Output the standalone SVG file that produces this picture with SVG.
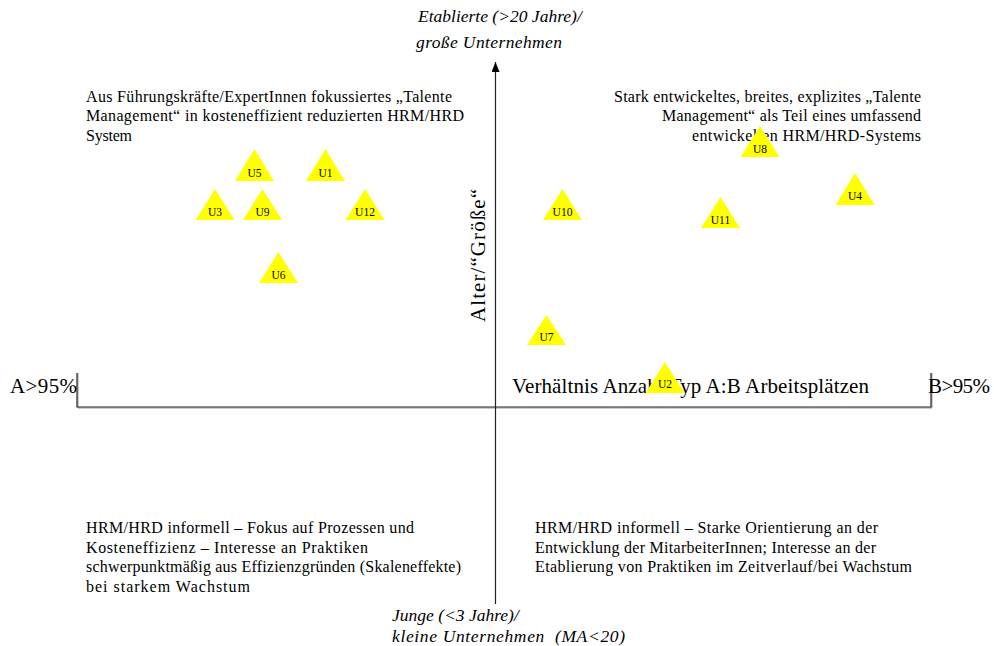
<svg xmlns="http://www.w3.org/2000/svg" width="994" height="646" viewBox="0 0 994 646">
<style>
.t{font-family:"Liberation Serif","Times New Roman",serif;fill:#000}
.q{font-size:16px}
.ax{font-size:21px}
.it{font-size:17.5px;font-style:italic}
.tri{fill:#ffff00}
.lb{font-family:"Liberation Serif",serif;font-size:11.5px;fill:#000;text-anchor:middle}
</style>
<defs>
<marker id="ah" viewBox="0 0 10 8" refX="10" refY="4" markerWidth="10" markerHeight="8" markerUnits="userSpaceOnUse" orient="auto">
<path d="M0,0 L10,4 L0,8 Z" fill="#000"/>
</marker>
</defs>
<rect width="994" height="646" fill="#fff"/>
<g id="connectors">
<path d="M78,373 V408 H932 V373" fill="none" stroke="#999" stroke-width="1"/>
<path d="M77,373 V407 H931 V373" fill="none" stroke="#222" stroke-width="1.2"/>
<line x1="495.5" y1="604" x2="495.5" y2="62" stroke="#222" stroke-width="1.2" marker-end="url(#ah)"/>
</g>
<g id="labels">
<text class="t it" x="418" y="22">Etablierte (&gt;20 Jahre)/</text>
<text class="t it" x="416" y="48" textLength="146">große Unternehmen</text>
<text class="t it" x="392" y="621">Junge (&lt;3 Jahre)/</text>
<text class="t it" x="392" y="642" textLength="233" xml:space="preserve">kleine Unternehmen  (MA&lt;20)</text>
<text class="t ax" x="10" y="393" textLength="67">A&gt;95%</text>
<text class="t ax" x="512" y="393" textLength="357">Verhältnis Anzahl Typ A:B Arbeitsplätzen</text>
<text class="t ax" x="928" y="393" textLength="62">B&gt;95%</text>
<text class="t ax" transform="translate(485,255.5) rotate(-90)" text-anchor="middle" textLength="133">Alter/“Größe“</text>
<text class="t q" x="86" y="102" textLength="366">Aus Führungskräfte/ExpertInnen fokussiertes „Talente</text>
<text class="t q" x="86" y="121" textLength="378">Management“ in kosteneffizient reduzierten HRM/HRD</text>
<text class="t q" x="86" y="141" textLength="46">System</text>
<text class="t q" x="614" y="102" textLength="307">Stark entwickeltes, breites, explizites „Talente</text>
<text class="t q" x="662" y="121" textLength="259">Management“ als Teil eines umfassend</text>
<text class="t q" x="692" y="141" textLength="229">entwickelten HRM/HRD-Systems</text>
<text class="t q" x="86" y="533" textLength="328">HRM/HRD informell – Fokus auf Prozessen und</text>
<text class="t q" x="86" y="553" textLength="282">Kosteneffizienz – Interesse an Praktiken</text>
<text class="t q" x="86" y="572" textLength="375">schwerpunktmäßig aus Effizienzgründen (Skaleneffekte)</text>
<text class="t q" x="86" y="592" textLength="164">bei starkem Wachstum</text>
<text class="t q" x="535" y="533" textLength="343">HRM/HRD informell – Starke Orientierung an der</text>
<text class="t q" x="535" y="553" textLength="341">Entwicklung der MitarbeiterInnen; Interesse an der</text>
<text class="t q" x="535" y="572" textLength="377">Etablierung von Praktiken im Zeitverlauf/bei Wachstum</text>
</g>
<g id="U5"><path class="tri" d="M254.5,149 L274,181 L235,181 Z"/><text class="lb" x="254.5" y="177">U5</text></g>
<g id="U1"><path class="tri" d="M325.5,149 L345,181 L306,181 Z"/><text class="lb" x="325.5" y="177">U1</text></g>
<g id="U3"><path class="tri" d="M215,189 L234.5,220 L195.5,220 Z"/><text class="lb" x="215" y="216">U3</text></g>
<g id="U9"><path class="tri" d="M262.5,189 L282,220 L243,220 Z"/><text class="lb" x="262.5" y="216">U9</text></g>
<g id="U12"><path class="tri" d="M365,189 L384.5,220 L345.5,220 Z"/><text class="lb" x="365" y="216">U12</text></g>
<g id="U6"><path class="tri" d="M278.5,252 L298,283 L259,283 Z"/><text class="lb" x="278.5" y="279">U6</text></g>
<g id="U10"><path class="tri" d="M562.5,189 L582,220 L543,220 Z"/><text class="lb" x="562.5" y="216">U10</text></g>
<g id="U11"><path class="tri" d="M720.5,197 L740,228 L701,228 Z"/><text class="lb" x="720.5" y="224">U11</text></g>
<g id="U8"><path class="tri" d="M760,126 L779.5,157 L740.5,157 Z"/><text class="lb" x="760" y="153">U8</text></g>
<g id="U4"><path class="tri" d="M855,173 L874.5,205 L835.5,205 Z"/><text class="lb" x="855" y="200">U4</text></g>
<g id="U7"><path class="tri" d="M546.5,315 L566,345 L527,345 Z"/><text class="lb" x="546.5" y="341">U7</text></g>
<g id="U2"><path class="tri" d="M665,362 L684.5,393 L645.5,393 Z"/><text class="lb" x="665" y="388">U2</text></g>
</svg>
